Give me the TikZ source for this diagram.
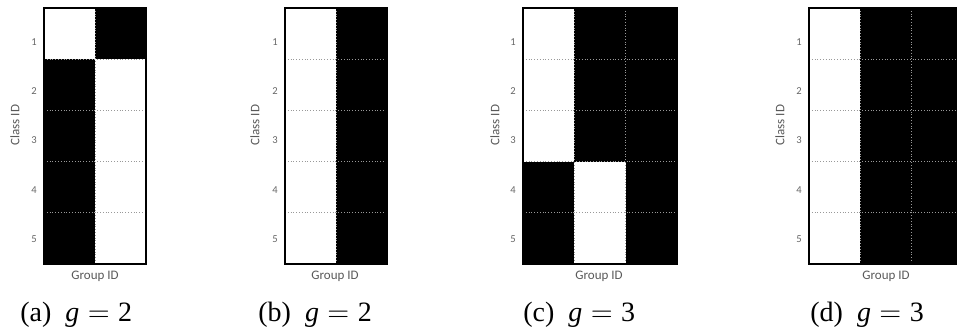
\documentclass[tikz,border=0pt]{standalone}
\usepackage{fontspec}
\setmainfont{Liberation Serif}
\newfontfamily\lblfont{Carlito}
\tikzset{
  cellline/.style={black!40,densely dotted,line width=0.4pt},
  gridframe/.style={black,line width=0.9pt},
  rowlab/.style={font=\lblfont\fontsize{5.3}{6}\selectfont,text=black!60,inner sep=0pt},
  axlab/.style={font=\lblfont\fontsize{6.5}{8}\selectfont,text=black!65,inner sep=0pt},
  subcap/.style={font=\fontsize{14}{16}\selectfont,inner sep=0pt,anchor=base west}
}
\newcommand\capg[2]{(#1)\hspace{0.5em}\textit{g}\hspace{0.3em}$=$\hspace{0.3em}#2}
\begin{document}
\begin{tikzpicture}[x=0.5pt,y=-0.5pt]
\useasboundingbox (0,0) rectangle (957,335);
\clip (0,0) rectangle (957,335);
% (a) two groups, class 1 alone in the first one
\begin{scope}[shift={(44,8)}]
\foreach \c/\r in {1/0,0/1,0/2,0/3,0/4} \fill (\c*51,\r*51.2) rectangle ++(51,51.2);
\foreach \r in {1,...,4} \draw[cellline] (0,\r*51.2) -- (102,\r*51.2);
\draw[cellline] (51,0) -- (51,256);
\draw[gridframe] (0,0) rectangle (102,256);
\foreach \r in {1,...,5} \node[rowlab] (a-r\r) at (-10,{34+(\r-1)*49.3}) {\r};
\node[axlab,rotate=90] (a-y) at (-29,117) {Class ID};
\node[axlab] (a-x) at (51,268) {Group ID};
\node[subcap] (a-cap) at (-24,314) {\capg{a}{2}};
\end{scope}
% (b) two groups, all classes together
\begin{scope}[shift={(285,8)}]
\foreach \r in {0,...,4} \fill (51,\r*51.2) rectangle ++(51,51.2);
\foreach \r in {1,...,4} \draw[cellline] (0,\r*51.2) -- (102,\r*51.2);
\draw[cellline] (51,0) -- (51,256);
\draw[gridframe] (0,0) rectangle (102,256);
\foreach \r in {1,...,5} \node[rowlab] (b-r\r) at (-10,{34+(\r-1)*49.3}) {\r};
\node[axlab,rotate=90] (b-y) at (-30,117) {Class ID};
\node[axlab] (b-x) at (50,268) {Group ID};
\node[subcap] (b-cap) at (-27,314) {\capg{b}{2}};
\end{scope}
% (c) three groups, classes 1-3 and 4-5
\begin{scope}[shift={(523,8)}]
\foreach \c/\r in {1/0,2/0,1/1,2/1,1/2,2/2,0/3,2/3,0/4,2/4} \fill (\c*51.3,\r*51.2) rectangle ++(51.3,51.2);
\foreach \r in {1,...,4} \draw[cellline] (0,\r*51.2) -- (154,\r*51.2);
\foreach \c in {1,2} \draw[cellline] (\c*51.3,0) -- (\c*51.3,256);
\draw[gridframe] (0,0) rectangle (154,256);
\foreach \r in {1,...,5} \node[rowlab] (c-r\r) at (-10,{34+(\r-1)*49.3}) {\r};
\node[axlab,rotate=90] (c-y) at (-28,117) {Class ID};
\node[axlab] (c-x) at (76,268) {Group ID};
\node[subcap] (c-cap) at (0,314) {\capg{c}{3}};
\end{scope}
% (d) three groups, all classes in the first one
\begin{scope}[shift={(809,8)}]
\foreach \c in {1,2} \foreach \r in {0,...,4} \fill (\c*51,\r*51.2) rectangle ++(51,51.2);
\foreach \r in {1,...,4} \draw[cellline] (0,\r*51.2) -- (153,\r*51.2);
\foreach \c in {1,2} \draw[cellline] (\c*51,0) -- (\c*51,256);
\draw[gridframe] (0,0) rectangle (153,256);
\foreach \r in {1,...,5} \node[rowlab] (d-r\r) at (-10,{34+(\r-1)*49.3}) {\r};
\node[axlab,rotate=90] (d-y) at (-29,117) {Class ID};
\node[axlab] (d-x) at (77,268) {Group ID};
\node[subcap] (d-cap) at (1,314) {\capg{d}{3}};
\end{scope}
\end{tikzpicture}
\end{document}
